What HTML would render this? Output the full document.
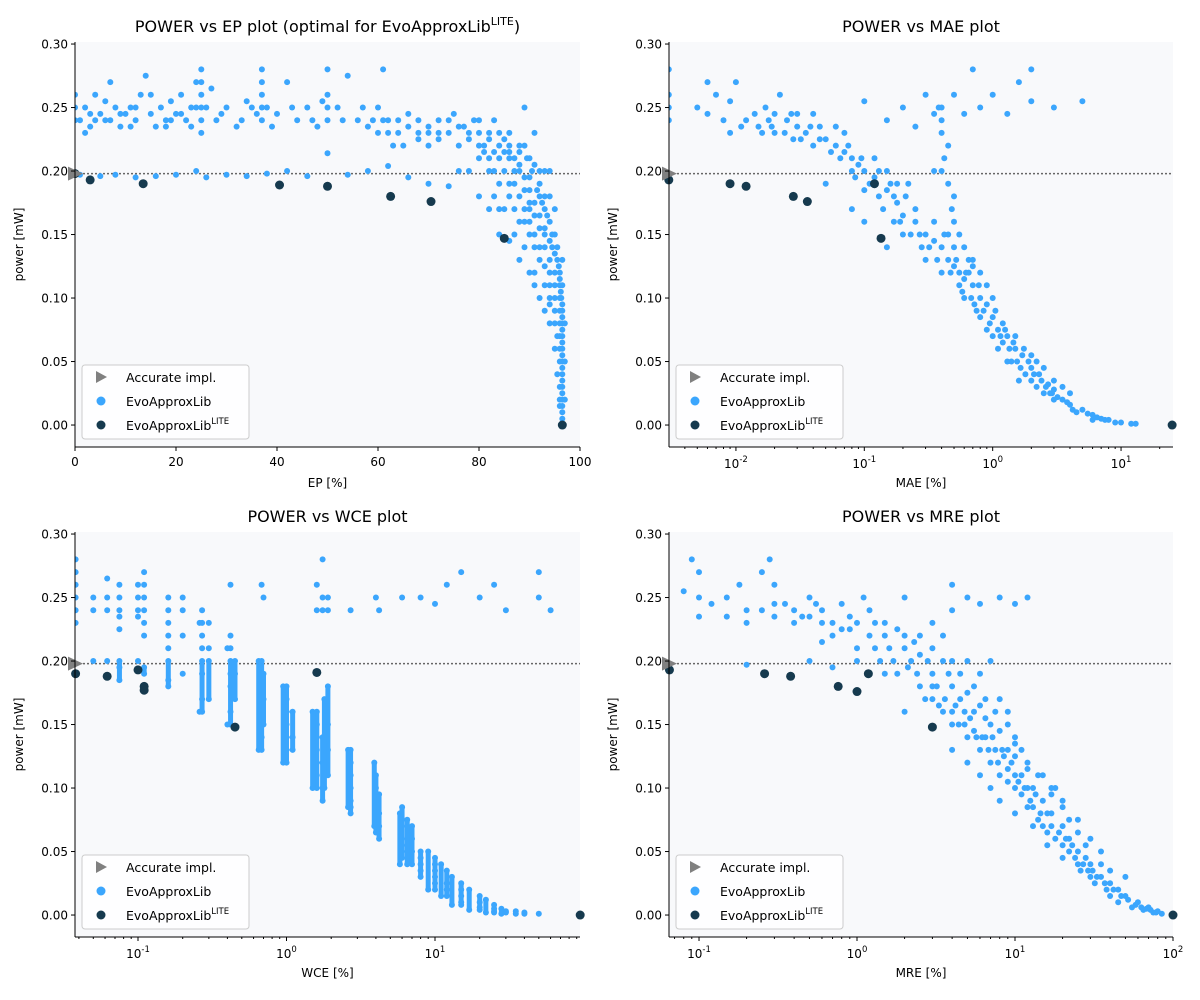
<!DOCTYPE html>
<html><head><meta charset="utf-8">
<style>
html,body{margin:0;padding:0;background:#fff;}
svg{display:block;font-family:"DejaVu Sans","Liberation Sans",sans-serif;}
</style></head>
<body>
<svg id="chart" width="1200" height="1000" viewBox="0 0 1200 1000" xmlns="http://www.w3.org/2000/svg"></svg>
<script>
// ---------- data ----------
const accuratePower = 0.198;
const epTicks = [0,20,40,60,80,100];
const yTicks = [0,0.05,0.10,0.15,0.20,0.25,0.30];
const yTickLabels = ["0.00","0.05","0.10","0.15","0.20","0.25","0.30"];

const epPts = [[1,.24],[2,.25],[3,.235],[4,.26],[5,.245],[6,.24],[7,.27],[8,.25],[9,.235],[10,.245],[11,.25],[12,.24],[13,.26],[14,.275],[15,.245],[16,.235],[17,.25],[18,.24],[19,.255],[20,.245],[21,.26],[22,.24],[23,.25],[24,.27],[25,.28],[25,.26],[25,.24],[26,.25],[27,.265],[28,.24],[30,.25],[32,.235],[34,.255],[36,.245],[37,.28],[37,.26],[37,.24],[38,.25],[40,.245],[42,.27],[44,.24],[46,.25],[48,.235],[50,.28],[50,.26],[52,.25],[54,.275],[56,.24],[58,.235],[60,.25],[61,.28],[62,.23],[0,.26],[0,.24],[0,.25],[3,.245],[7,.24],[11,.235],[19,.24],[23,.235],
[1,.197],[5,.196],[8,.197],[12,.195],[16,.196],[20,.197],[24,.2],[26,.195],[30,.197],[34,.196],[38,.198],[42,.2],[46,.196],[50,.214],[54,.197],[58,.2],[62,.204],[66,.195],[70,.19],[74,.188],
[62,.24],[64,.23],[66,.245],[68,.23],[70,.235],[72,.225],[74,.23],[75,.245],[76,.22],[78,.225],[79,.24],[80,.21],[81,.22],[82,.2],[83,.215],[84,.19],[85,.225],[85,.2],[86,.18],[86,.21],[87,.19],[87,.17],[88,.2],[88,.16],[89,.185],[89,.22],[90,.175],[90,.195],[90,.15],[91,.205],[91,.165],[91,.14],[92,.18],[92,.155],[92,.19],[93,.17],[93,.14],[93,.2],[93,.125],[94,.16],[94,.18],[94,.13],[94,.11],[95,.15],[95,.12],[95,.1],[95,.17],[96,.09],[96,.07],[96,.05],[96,.03],[96,.11],[96.5,.06],[96.5,.04],[96.5,.02],[96.5,.01],[96.5,0],[96.5,.08],[96.3,.1],[96.5,.13],[80,.18],[82,.17],[84,.15],[86,.145],[88,.13],[90,.12],[91,.11],[92,.1],[93,.09],[94,.08],[95,.06],[89,.25],[91,.23],[78,.2],[76,.2],[83,.24],[96.5,.03],[96.5,.05],[96.5,.07],[96.5,.09],[96.5,.11],[96,.12],[95.5,.14],[94.5,.15],[93.5,.165],[92.5,.175],[91.5,.185],[90.5,.2],[89.5,.21],[88,.215],[86,.22],[84,.23],[82,.225],[80,.23],[72,.24],[68,.24],[65,.22],[70,.22],[77,.235],[87,.2],[89,.17],[90,.16],[92,.13],[93,.11],[94,.095],[95,.08],[96,.015],[96.5,.025],
[96.5,.005],[96.5,.015],[96.5,.035],[96.5,.045],[96.5,.055],[96.5,.065],[96.5,.075],[96.5,.085],[96.5,.095],[96.2,.105],[96,.115],[95.8,.125],[95.5,.13],[95,.135],[94.5,.14],[94,.145],[93,.155],[92,.165],[91,.175],[90,.185],[89,.195],[88,.205],[87,.21],[86,.215],[85,.215],[84,.21],[83,.2],[82,.21],[81,.215],[80,.22],[78,.23],[76,.235],[74,.24],[72,.23],[70,.23],[68,.225],[66,.235],[64,.24],[63,.22],[95,.09],[94,.12],[93,.15],[92,.14],[91,.15],[90,.17],[89,.16],[88,.18],[87,.15],[86,.19],[85,.17],[84,.17],[83,.18],[95.5,.07],[95.5,.04],[96,.02],[96,.06],[96,.08],[96,.1],[95,.11],[94,.1],[93,.18],[94,.2],[92,.2],[90,.21],[88,.22],[86,.23],[84,.22],[82,.23],[80,.24],[89,.14],[91,.12],[97,.02],[97,.05],[97,.08],
[2,.23],[4,.24],[6,.255],[9,.245],[12,.25],[15,.26],[18,.235],[21,.245],[24,.25],[25,.27],[25,.25],[25,.23],[29,.245],[33,.24],[35,.25],[37,.27],[37,.25],[39,.235],[43,.25],[47,.24],[49,.255],[50,.25],[50,.24],[53,.24],[57,.25],[59,.24],[60,.23],[61,.24]];
const epLite = [[0,.198],[3,.193],[13.5,.19],[40.5,.189],[50,.188],[62.5,.18],[70.5,.176],[85,.147],[96.5,0]];

const maePts = [[0.003,.28],[0.003,.26],[0.003,.24],[0.003,.25],[0.005,.25],[0.006,.27],[0.006,.245],[0.007,.26],[0.009,.255],[0.009,.23],[0.01,.27],[0.012,.24],[0.015,.235],[0.017,.25],[0.02,.245],[0.022,.26],[0.025,.24],[0.03,.235],[0.035,.23],[0.04,.245],[0.05,.225],[0.06,.22],[0.07,.215],[0.08,.21],[0.09,.205],[0.1,.2],[0.12,.195],[0.15,.185],[0.18,.175],[0.2,.165],[0.25,.16],[0.3,.15],[0.35,.145],[0.4,.14],[0.45,.13],[0.5,.125],[0.6,.115],[0.7,.11],[0.8,.1],[0.9,.095],[1,.085],[1.1,.075],[1.3,.07],[1.5,.06],[1.7,.055],[2,.045],[2.3,.04],[2.7,.032],[3,.028],[3.5,.02],[4,.016],[5,.012],[6,.008],[7,.005],[8,.004],[10,.002],[12,.001],[13,.001],
[0.02,.23],[0.03,.245],[0.04,.22],[0.06,.235],[0.08,.2],[0.1,.185],[0.12,.21],[0.15,.2],[0.18,.19],[0.2,.15],[0.25,.17],[0.3,.13],[0.35,.16],[0.4,.12],[0.5,.14],[0.6,.1],[0.7,.125],[0.8,.085],[1,.1],[1.2,.065],[1.5,.07],[2,.035],[2.5,.045],[3,.02],[4,.025],[0.1,.16],[0.15,.14],[0.08,.17],[0.05,.19],[0.4,.24],[0.45,.22],[0.4,.2],[0.5,.18],
[0.1,.255],[0.15,.24],[0.2,.25],[0.3,.26],[0.35,.245],[0.4,.25],[0.5,.26],[0.6,.245],[0.8,.25],[1,.26],[1.3,.245],[1.6,.27],[2,.255],[2,.28],[3,.25],[5,.255],[0.7,.28],[0.25,.235],
[0.018,.24],[0.028,.225],[0.045,.235],[0.07,.23],[0.13,.18],[0.17,.16],[0.22,.19],[0.28,.14],[0.45,.15],[0.55,.11],[0.65,.13],[0.75,.09],[0.9,.075],[1.2,.08],[1.4,.05],[1.8,.04],[2.2,.05],[2.8,.025],[3.5,.03],[4.5,.01],[6,.004],[9,.002],
[0.008,.24],[0.011,.235],[0.014,.245],[0.016,.23],[0.019,.235],[0.024,.23],[0.027,.245],[0.032,.225],[0.038,.235],[0.045,.225],[0.055,.215],[0.065,.21],[0.075,.22],[0.085,.195],[0.095,.21],[0.11,.19],[0.13,.2],[0.14,.17],[0.16,.19],[0.17,.18],[0.19,.16],[0.21,.18],[0.23,.15],[0.27,.15],[0.32,.14],[0.37,.13],[0.42,.15],[0.47,.12],[0.52,.13],[0.55,.12],[0.58,.105],[0.62,.12],[0.68,.1],[0.72,.095],[0.78,.11],[0.85,.09],[0.95,.08],[1.05,.09],[1.1,.06],[1.15,.07],[1.25,.075],[1.35,.06],[1.45,.065],[1.55,.05],[1.65,.045],[1.75,.06],[1.9,.05],[2.1,.04],[2.2,.03],[2.4,.035],[2.6,.03],[2.9,.025],[3.2,.022],[3.8,.018],[4.2,.012],[5.5,.009],[6.5,.006],[7.5,.004],[0.4,.23],[0.42,.21],[0.38,.25],[0.45,.19],[0.48,.17],[0.35,.2],[0.5,.16],[0.55,.15],[0.6,.14],[0.65,.12],[0.7,.13],[1.6,.035],[1.3,.05],[2.5,.025],[3,.035],[2,.055],[1,.07],[0.9,.11],[0.8,.12]];
const maeLite = [[0.003,.193],[0.009,.19],[0.012,.188],[0.028,.18],[0.036,.176],[0.12,.19],[0.135,.147],[25,0]];

const wceCols = [[0.038,[.28,.27,.26,.25,.24,.23]],[0.05,[.25,.24,.2]],[0.062,[.265,.25,.24,.2]],[0.075,[.26,.25,.24,.235,.225,.2,.195,.185]],[0.1,[.26,.25,.24,.235,.2]],[0.11,[.27,.26,.25,.24,.23,.22,.195,.19]],[0.16,[.25,.24,.23,.22,.21,.2,.185,.18]],[0.2,[.25,.24,.22,.19]],[0.27,[.24,.23,.22,.21,.2,.19,.17,.16]],[0.3,[.23,.21,.2,.17]],[0.42,[.26,.22,.21,.2,.19,.18,.16,.15]],[0.45,[.2,.19,.17]],[0.68,[.26,.2,.19,.18,.17,.16,.15,.14,.13]],[0.7,[.25,.19,.17,.15]],[1.0,[.18,.17,.16,.15,.14,.13,.12]],[1.1,[.16,.14,.13]],[1.6,[.26,.24,.16,.15,.14,.13,.12,.11,.1]],[1.75,[.28,.25,.24,.14,.12,.1,.09]],[1.9,[.25,.24,.18,.15,.13,.11]],[2.7,[.24,.13,.12,.11,.1,.09,.085,.08]],[4,[.25,.11,.1,.09,.085,.08,.075,.07,.065]],[4.2,[.24,.095,.08,.07,.06]],[6,[.25,.085,.075,.07,.06,.055,.05,.045]],[7,[.07,.06,.05,.04]],[8,[.25,.05,.045,.04,.035,.03]],[10,[.245,.045,.04,.035,.03,.025,.02]],[12,[.26,.035,.025,.02,.015]],[15,[.27,.025,.02,.015,.01,.008]],[20,[.25,.015,.01,.006,.004]],[25,[.26,.008,.005,.003,.002]],[30,[.24,.003,.002]],[40,[.002,.001]],[50,[.27,.25,.001]],[60,[.24]],
[1.5,[.16,.1]],[1.8,[.17,.1]],[2.6,[.13,.085]],[3.9,[.12,.07]],[5.8,[.08,.04]],[6.5,[.075,.04]],[9,[.05,.02]],[11,[.04,.015]],[13,[.03,.008]],[17,[.02,.004]],[22,[.012,.002]],[28,[.005,.001]],[35,[.003,.001]],[0.65,[.2,.13]],[0.95,[.18,.12]],[0.4,[.21,.15]],[0.26,[.23,.16]]];
const wceLite = [[0.038,.19],[0.062,.188],[0.1,.193],[0.11,.18],[0.11,.177],[0.45,.148],[1.6,.191],[95,0]];

const mrePts = [[0.09,.28],[0.1,.27],[0.1,.25],[0.1,.235],[0.08,.255],[0.12,.245],[0.15,.25],[0.18,.26],[0.2,.24],[0.25,.27],[0.28,.28],[0.3,.26],[0.35,.245],[0.4,.24],[0.45,.235],[0.5,.25],[0.6,.24],[0.7,.23],[0.8,.245],[0.9,.235],[1,.23],[1.1,.25],[1.2,.24],[1.5,.22],[1.8,.225],[2,.21],[2.2,.2],[2.5,.205],[3,.19],[3.5,.2],[4,.18],[4.5,.17],[5,.175],[5.5,.16],[6,.165],[7,.15],[8,.145],[9,.13],[10,.125],[11,.11],[12,.115],[13,.1],[15,.09],[17,.08],[20,.07],[22,.06],[25,.05],[28,.045],[30,.04],[35,.03],[40,.025],[45,.02],[50,.015],[60,.01],[70,.006],[80,.003],[0.2,.197],[0.5,.2],[0.7,.195],[1.5,.19],[2,.16],[3,.17],[4,.15],[5,.14],[6,.13],[7,.12],[8,.11],[10,.1],[12,.085],[15,.07],[20,.055],[25,.04],[30,.03],[40,.015],[6,.19],[8,.17],[10,.14],[15,.11],[20,.085],[25,.065],[3,.23],[4,.24],[5,.25],[6,.245],[8,.25],[10,.245],[12,.25],[2,.25],[4,.26],[7,.2],[9,.16],[5,.2],[3.5,.16],[11,.13],[18,.1],[35,.05],[50,.03],[1,.2],[1.3,.21],[0.6,.215],[2.5,.18],
[0.3,.235],[0.6,.23],[0.9,.225],[1.3,.23],[1.7,.2],[2.3,.215],[2.8,.2],[3.2,.18],[3.8,.19],[4.2,.165],[4.8,.16],[5.5,.145],[6.5,.14],[7.5,.13],[9,.115],[10,.11],[11,.095],[13,.085],[14,.075],[16,.065],[18,.06],[22,.05],[26,.035],[32,.025],[38,.02],[45,.01],[55,.006],[65,.004],[75,.002],[6.5,.155],[8.5,.125],[12,.1],[17,.095],[22,.075],[28,.055],
[0.7,.22],[0.8,.225],[1,.21],[1.2,.22],[1.4,.2],[1.6,.21],[1.8,.19],[2.1,.195],[2.4,.19],[2.7,.17],[3,.18],[3.3,.165],[3.6,.17],[4,.16],[4.4,.15],[4.8,.15],[5.2,.155],[5.7,.14],[6.2,.14],[6.8,.13],[7.2,.14],[7.8,.12],[8.3,.13],[9,.105],[9.5,.12],[10.5,.105],[11.5,.1],[12.5,.09],[13.5,.095],[14.5,.08],[16,.08],[17,.07],[19,.065],[21,.06],[23,.055],[24,.045],[27,.04],[29,.035],[31,.035],[33,.03],[37,.025],[42,.02],[47,.015],[52,.012],[58,.008],[63,.006],[68,.005],[72,.004],[78,.002],[85,.001],[4,.13],[5,.12],[6,.11],[7,.1],[8,.09],[10,.08],[13,.07],[16,.055],[20,.045],[0.15,.235],[0.2,.23],[0.25,.24],[0.4,.23],[0.5,.235],[0.55,.245],[0.3,.245],[1.5,.23],[2,.22],[2.5,.22],[3,.21],[3.5,.22],[4,.2],[4.5,.19],[5.5,.18],[6.5,.17],[7.5,.16],[9,.15],[10,.135],[12,.12],[14,.11],[17,.1],[20,.09],[25,.075],[30,.06],[35,.04],[40,.035]];
const mreLite = [[0.065,.193],[0.26,.19],[0.38,.188],[0.76,.18],[1.0,.176],[1.18,.19],[3,.148],[100,0]];

// ---------- rendering ----------
const svg = document.getElementById('chart');
const NS = 'http://www.w3.org/2000/svg';
const BLUE = '#3ba6fd', DARK = '#163a4e', GREY = '#808080';
function mk(tag, attrs, parent){ const e=document.createElementNS(NS,tag); for(const k in attrs) e.setAttribute(k,attrs[k]); (parent||svg).appendChild(e); return e; }

const YMIN=-0.0173, YMAX=0.3016;
const panels = [
 {id:'ep', x0:75,y0:42,w:505,h:405, log:false, xmin:0,xmax:100, title:'POWER vs EP plot (optimal for EvoApproxLib', titleSup:true, xlabel:'EP [%]', pts:epPts, lite:epLite},
 {id:'mae', x0:669,y0:42,w:504,h:405, log:true, xmin:Math.pow(10,-2.5214),xmax:Math.pow(10,1.4047), title:'POWER vs MAE plot', xlabel:'MAE [%]', decades:[-2,-1,0,1], pts:maePts, lite:maeLite},
 {id:'wce', x0:75,y0:532,w:505,h:405, log:true, xmin:Math.pow(10,-1.4242),xmax:Math.pow(10,1.9764), title:'POWER vs WCE plot', xlabel:'WCE [%]', decades:[-1,0,1], cols:wceCols, lite:wceLite},
 {id:'mre', x0:669,y0:532,w:504,h:405, log:true, xmin:Math.pow(10,-1.19),xmax:100, title:'POWER vs MRE plot', xlabel:'MRE [%]', decades:[-1,0,1,2], pts:mrePts, lite:mreLite}
];

panels.forEach(p=>{
  const g = mk('g',{});
  
  
  const lx = p.log ? Math.log10(p.xmin) : p.xmin, hx = p.log ? Math.log10(p.xmax) : p.xmax;
  const X = v => p.x0 + ((p.log?Math.log10(v):v) - lx)/(hx-lx)*p.w;
  const Y = v => p.y0 + (YMAX - v)/(YMAX-YMIN)*p.h;
  const bg = mk('rect',{x:p.x0,y:p.y0,width:p.w,height:p.h,fill:'#f8f9fb'},g);
  
  
  const cp = mk('clipPath',{id:'clip-'+p.id},g);
  mk('rect',{x:p.x0,y:p.y0,width:p.w,height:p.h},cp);
  const ref = mk('line',{x1:p.x0,x2:p.x0+p.w,y1:Y(accuratePower),y2:Y(accuratePower),stroke:'#666',"stroke-width":1.5,"stroke-dasharray":'2,2'},g);
  
  
  const pg = mk('g',{'clip-path':'url(#clip-'+p.id+')', fill:BLUE},g);
  
  
  let pts = p.pts || [];
  if(p.cols){ pts=[]; p.cols.forEach(c=>c[1].forEach(v=>pts.push([c[0],v]))); }
  pts.forEach(pt=>{
    const c = mk('circle',{cx:X(pt[0]).toFixed(1),cy:Y(pt[1]).toFixed(1),r:3},pg);
    
    
  });
  if(p.cols){
    p.cols.forEach(c=>{
      const ys=c[1].filter(v=>v<0.21); if(ys.length<2) return;
      const ln = mk('line',{x1:X(c[0]),x2:X(c[0]),y1:Y(Math.max(...ys)),y2:Y(Math.min(...ys)),stroke:BLUE,'stroke-width':5},pg);
      
      
    });
  }
  const lg = mk('g',{fill:DARK},g);
  
  
  p.lite.forEach(pt=>{
    const c = mk('circle',{cx:X(pt[0]),cy:Y(pt[1]),r:4.5},lg);
    
    
  });
  const tx=p.x0, ty=Y(accuratePower);
  const tri = mk('polygon',{points:`${tx-7},${ty-7} ${tx+8},${ty} ${tx-7},${ty+7}`,fill:GREY},g);
  
  
  mk('line',{x1:p.x0,x2:p.x0,y1:p.y0,y2:p.y0+p.h,stroke:'#000','stroke-width':1},g);
  mk('line',{x1:p.x0,x2:p.x0+p.w,y1:p.y0+p.h,y2:p.y0+p.h,stroke:'#000','stroke-width':1},g);
  yTicks.forEach((v,i)=>{
    const y=Y(v);
    mk('line',{x1:p.x0-4,x2:p.x0,y1:y,y2:y,stroke:'#000'},g);
    const t=mk('text',{x:p.x0-7,y:y+4.5,'text-anchor':'end','font-size':12},g);
    t.textContent=yTickLabels[i];
    
    
  });
  const by=p.y0+p.h;
  if(!p.log){
    epTicks.forEach(v=>{
      const x=X(v);
      mk('line',{x1:x,x2:x,y1:by,y2:by+4,stroke:'#000'},g);
      const t=mk('text',{x:x,y:by+19,'text-anchor':'middle','font-size':12},g);
      t.textContent=String(v);
      
      
    });
  } else {
    for(let d=Math.floor(lx); d<=Math.ceil(hx); d++){
      for(let m=1;m<10;m++){
        const lv=d+Math.log10(m);
        if(lv<lx-1e-9||lv>hx+1e-9) continue;
        const x=X(Math.pow(10,lv));
        mk('line',{x1:x,x2:x,y1:by,y2:by+(m===1?4:2),stroke:'#000'},g);
      }
    }
    p.decades.forEach(d=>{
      const x=X(Math.pow(10,d));
      const t=mk('text',{x:x,y:by+21,'text-anchor':'middle','font-size':12},g);
      
      
      const a=mk('tspan',{},t); a.textContent='10';
      const b=mk('tspan',{dy:-6,'font-size':8.5}); t.appendChild(b); b.textContent=String(d);
    });
  }
  const xl=mk('text',{x:p.x0+p.w/2,y:by+40,'text-anchor':'middle','font-size':12},g);
  xl.textContent=p.xlabel;
  
  
  const yl=mk('text',{x:0,y:0,'text-anchor':'middle','font-size':12,transform:`translate(${p.x0-52},${p.y0+p.h/2}) rotate(-90)`},g);
  yl.textContent='power [mW]';
  
  
  const tt=mk('text',{x:p.x0+p.w/2,y:p.y0-10,'text-anchor':'middle','font-size':16},g);
  
  
  if(p.titleSup){
    const a=mk('tspan',{},tt); a.textContent=p.title;
    const b=mk('tspan',{dy:-7,'font-size':11},tt); b.textContent='LITE';
    const c=mk('tspan',{dy:7},tt); c.textContent=')';
  } else tt.textContent=p.title;
  const L=mk('g',{},g);
  
  
  const lx0=p.x0+7, ly0=p.y0+p.h-82;
  mk('rect',{x:lx0,y:ly0,width:167,height:74,rx:3,fill:'#fff','fill-opacity':0.85,stroke:'#ccc'},L);
  const rows=[['Accurate impl.','tri'],['EvoApproxLib','blue'],['EvoApproxLib','dark']];
  rows.forEach((r,i)=>{
    const cy=ly0+12+i*24, cx=lx0+19;
    if(r[1]==='tri') mk('polygon',{points:`${cx-5},${cy-6} ${cx+6},${cy} ${cx-5},${cy+6}`,fill:GREY},L);
    else mk('circle',{cx:cx,cy:cy,r:4.5,fill:r[1]==='blue'?BLUE:DARK},L);
    const t=mk('text',{x:lx0+44,y:cy+5,'font-size':12.5},L);
    
    
    const a=mk('tspan',{},t); a.textContent=r[0];
    if(r[1]==='dark'){ const b=mk('tspan',{dy:-6,'font-size':8.5},t); b.textContent='LITE'; }
  });
});
</script>
</body></html>
